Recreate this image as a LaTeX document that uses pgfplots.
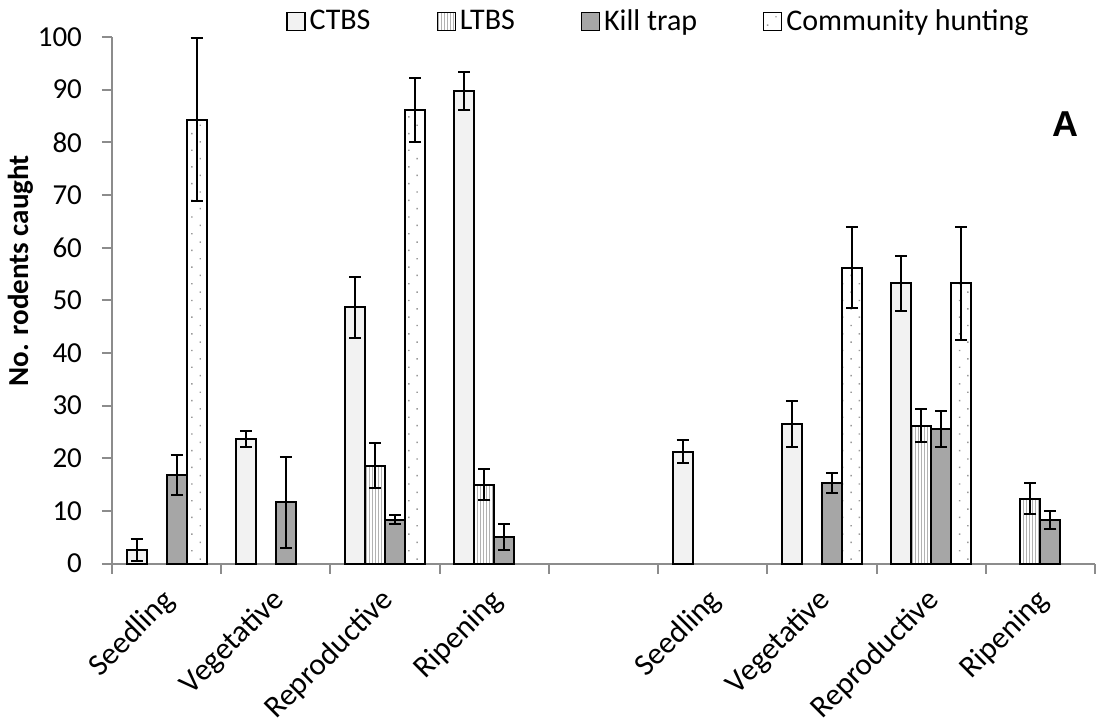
\documentclass[border=0pt]{standalone}
\usepackage{fontspec}
\setmainfont{Carlito}
\newfontfamily\arialfont{Liberation Sans}
\usepackage{pgfplots}
\pgfplotsset{compat=1.18}
\usetikzlibrary{patterns.meta}
\begin{document}
\begin{tikzpicture}
\begin{axis}[
  scale only axis, width=491.5pt, height=263.25pt,
  xmin=0.5, xmax=9.5, ymin=0, ymax=100,
  clip=false,
  ybar=0pt, bar width=0.183,
  axis x line*=bottom, axis y line*=left,
  axis line style={draw=black!45, line width=1pt},
  tick align=outside, major tick length=5pt,
  ytick={0,10,...,100},
  ytick style={draw=black!45, line width=1pt},
  xtick={1,2,3,4,6,7,8,9},
  xticklabels={Seedling,Vegetative,Reproductive,Ripening,Seedling,Vegetative,Reproductive,Ripening},
  xtick style={draw=none},
  extra x ticks={0.5,1.5,2.5,3.5,4.5,5.5,6.5,7.5,8.5,9.5},
  extra x tick labels={},
  extra x tick style={xtick style={draw=black!45, line width=1pt}},
  tick label style={font=\fontsize{14.5}{17}\selectfont},
  /pgf/number format/assume math mode=true,
  yticklabel style={xshift=-6.5pt},
  xticklabel style={font=\fontsize{15.5}{18}\selectfont, rotate=45, anchor=east, xshift=-3.2pt, yshift=-9.2pt},
  ylabel={No. rodents caught},
  ylabel shift=-4.5pt,
  ylabel style={font=\fontsize{14.5}{17}\selectfont\bfseries, at={(ticklabel cs:0.556)}},
  legend columns=-1,
  legend style={draw=none, at={(0.171,1.030)}, anchor=west,
    font=\fontsize{15}{18}\selectfont,
    /tikz/every even column/.append style={column sep=31pt}},
  legend image code/.code={\draw[#1, line width=0.6pt] (0pt,-4.5pt) rectangle (9pt,4.5pt);},
  every axis plot/.append style={draw=black, line width=1pt},
  error bars/y dir=both, error bars/y explicit,
  error bars/error bar style={line width=1pt, black, solid},
  error bars/error mark options={rotate=90, line width=1pt, black, mark size=3pt},
]
\addplot[fill=black!5] coordinates {
  (1,2.6) +- (0,2.1)
  (2,23.6) +- (0,1.5)
  (3,48.7) +- (0,5.8)
  (4,89.8) +- (0,3.6)
  (6,21.2) +- (0,2.2)
  (7,26.5) +- (0,4.3)
  (8,53.2) +- (0,5.2)
};
\addplot[pattern={Lines[angle=90,distance=1.5pt,line width=0.4pt]}, pattern color=black!30] coordinates {
  (3,18.6) +- (0,4.2)
  (4,15.0) +- (0,3.0)
  (8,26.2) +- (0,3.2)
  (9,12.3) +- (0,2.9)
};
\addplot[fill=black!35] coordinates {
  (1,16.9) +- (0,3.8)
  (2,11.6) +- (0,8.7)
  (3,8.3) +- (0,0.85)
  (4,5.0) +- (0,2.5)
  (7,15.3) +- (0,1.85)
  (8,25.5) +- (0,3.45)
  (9,8.3) +- (0,1.65)
};
\addplot[pattern={Dots[distance=5.9pt,radius=0.5pt,angle=45]}, pattern color=black!40] coordinates {
  (1,84.3) +- (0,15.5)
  (3,86.2) +- (0,6.1)
  (7,56.2) +- (0,7.7)
  (8,53.2) +- (0,10.7)
};
\legend{CTBS,LTBS,Kill trap,Community hunting}
\node[font=\arialfont\bfseries\fontsize{18}{20}\selectfont] at (axis cs:9.23,83.4) {A};
\coordinate (bbll) at (axis cs:-0.5254,-30.86);
\coordinate (bbur) at (axis cs:9.5185,107.03);
\end{axis}
\pgfresetboundingbox
\path[use as bounding box] (bbll) rectangle (bbur);
\end{tikzpicture}
\end{document}
